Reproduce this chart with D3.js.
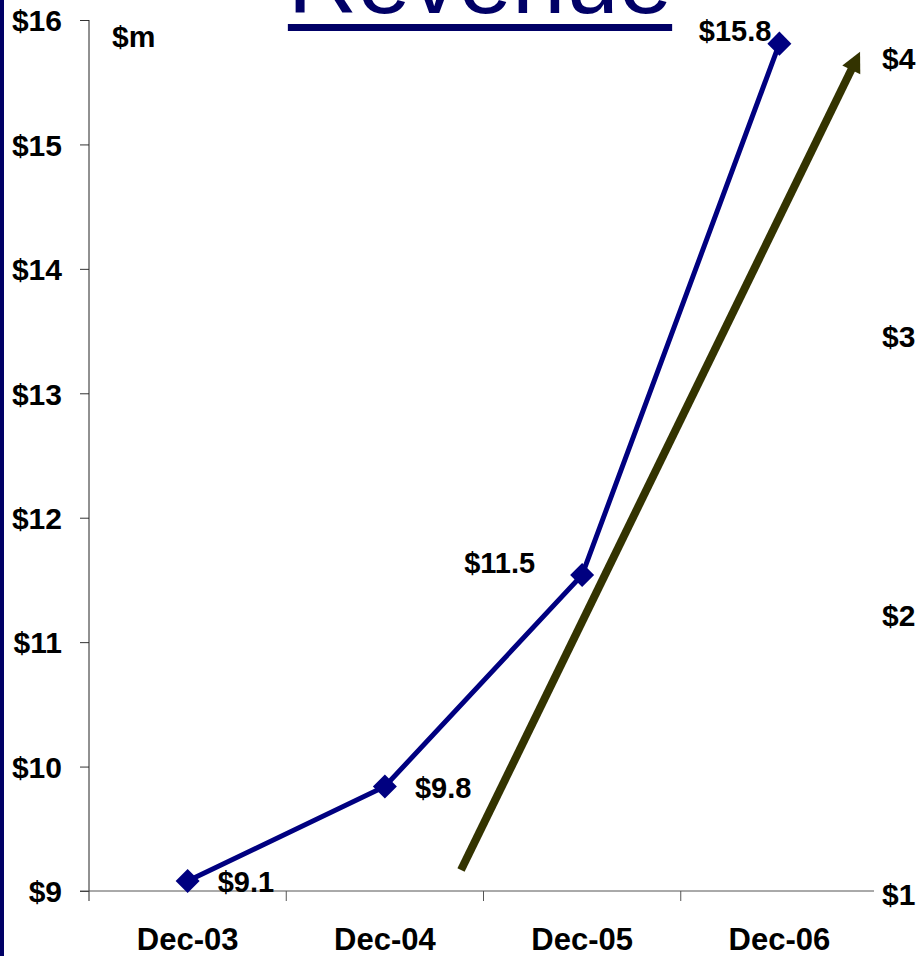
<!DOCTYPE html>
<html>
<head>
<meta charset="utf-8">
<script src="https://cdn.jsdelivr.net/npm/d3@7"></script>
<style>
  body { margin: 0; background: #fff; }
  svg { display: block; font-family: Arial, "Liberation Sans", sans-serif; }
</style>
</head>
<body>
<div id="chart"></div>
<script>
// data
var categories = ["Dec-03", "Dec-04", "Dec-05", "Dec-06"];
var revenue = [9.08, 9.84, 11.54, 15.81];
var revenueLabels = ["$9.1", "$9.8", "$11.5", "$15.8"];
var leftTicks = [9, 10, 11, 12, 13, 14, 15, 16];
var rightTicks = [1, 2, 3, 4];
// trend arrow: position in category units, value on right axis
var arrowPos = [1.386, 3.409];
var arrowVal = [1.075, 4.01];

var W = 922, H = 956;
var plotLeft = 89, plotRight = 878, plotTop = 20, plotBottom = 891;

var svg = d3.select("#chart").append("svg")
    .attr("width", W)
    .attr("height", H);

// navy strip on the left edge
svg.append("rect")
    .attr("x", 0).attr("y", 0)
    .attr("width", 4).attr("height", H)
    .attr("fill", "#000066");

var x = d3.scaleBand()
    .domain(categories)
    .range([plotLeft, plotRight])
    .padding(0);

var xPos = d3.scaleLinear()
    .domain([0, categories.length - 1])
    .range([x(categories[0]) + x.bandwidth() / 2, x(categories[categories.length - 1]) + x.bandwidth() / 2]);

var y = d3.scaleLinear()
    .domain([9, 16])
    .range([plotBottom, plotTop]);

var y2 = d3.scaleLinear()
    .domain([1, 4.124])
    .range([plotBottom, plotTop]);

// title
var title = svg.append("text")
    .attr("x", 480)
    .attr("y", 13)
    .attr("text-anchor", "middle")
    .style("font-size", "96px")
    .style("fill", "#000066")
    .text("Revenue");
var tw = title.node().getComputedTextLength();
svg.append("rect")
    .attr("x", 480 - tw / 2)
    .attr("y", 24)
    .attr("width", tw)
    .attr("height", 7)
    .attr("fill", "#000066");

// left axis
var yAxis = d3.axisLeft(y)
    .tickValues(leftTicks)
    .tickSize(9)
    .tickPadding(18)
    .tickFormat(function(d) { return "$" + d; });

var gy = svg.append("g")
    .attr("transform", "translate(" + plotLeft + ",0)")
    .call(yAxis);
gy.select(".domain").remove();
gy.selectAll("line").attr("stroke", "#333");
gy.selectAll("text")
    .style("font-size", "30px")
    .style("font-weight", "bold")
    .style("fill", "#000")
    .attr("dy", "0.36em");
svg.append("line")
    .attr("x1", plotLeft).attr("x2", plotLeft)
    .attr("y1", plotTop).attr("y2", plotBottom + 10)
    .attr("stroke", "#222");

// bottom axis
svg.append("line")
    .attr("x1", plotLeft - 9).attr("x2", plotRight - 4)
    .attr("y1", plotBottom).attr("y2", plotBottom)
    .attr("stroke", "#555");
svg.selectAll(".xtick")
    .data(categories.slice(1))
    .enter().append("line")
    .attr("class", "xtick")
    .attr("x1", function(d) { return x(d); })
    .attr("x2", function(d) { return x(d); })
    .attr("y1", plotBottom).attr("y2", plotBottom + 10)
    .attr("stroke", "#555");
svg.selectAll(".xlabel")
    .data(categories)
    .enter().append("text")
    .attr("class", "xlabel")
    .attr("x", function(d) { return x(d) + x.bandwidth() / 2; })
    .attr("y", 950)
    .attr("text-anchor", "middle")
    .style("font-size", "31px")
    .style("font-weight", "bold")
    .text(function(d) { return d; });

// right axis labels
svg.selectAll(".rlabel")
    .data(rightTicks)
    .enter().append("text")
    .attr("class", "rlabel")
    .attr("x", 882)
    .attr("y", function(d) { return y2(d) + 14; })
    .style("font-size", "30px")
    .style("font-weight", "bold")
    .text(function(d) { return "$" + d; });

// unit label
svg.append("text")
    .attr("x", 112)
    .attr("y", 47)
    .style("font-size", "30px")
    .style("font-weight", "bold")
    .text("$m");

// trend arrow
var ax0 = xPos(arrowPos[0]), ay0 = y2(arrowVal[0]);
var ax1 = xPos(arrowPos[1]), ay1 = y2(arrowVal[1]);
var ang = Math.atan2(ay1 - ay0, ax1 - ax0);
var headLen = 20, headHalf = 10;
var bx = ax1 - headLen * Math.cos(ang), by = ay1 - headLen * Math.sin(ang);
svg.append("line")
    .attr("x1", ax0).attr("y1", ay0)
    .attr("x2", bx + 2 * Math.cos(ang)).attr("y2", by + 2 * Math.sin(ang))
    .attr("stroke", "#333300")
    .attr("stroke-width", 8);
svg.append("path")
    .attr("d", "M" + ax1 + "," + ay1 +
        "L" + (bx - headHalf * Math.sin(ang)) + "," + (by + headHalf * Math.cos(ang)) +
        "L" + (bx + headHalf * Math.sin(ang)) + "," + (by - headHalf * Math.cos(ang)) + "Z")
    .attr("fill", "#333300");

// revenue line
var line = d3.line()
    .x(function(d, i) { return xPos(i); })
    .y(function(d) { return y(d); });

svg.append("path")
    .datum(revenue)
    .attr("d", line)
    .attr("fill", "none")
    .attr("stroke", "#000080")
    .attr("stroke-width", 5);

svg.selectAll(".pt")
    .data(revenue)
    .enter().append("rect")
    .attr("class", "pt")
    .attr("x", -8.5).attr("y", -8.5)
    .attr("width", 17).attr("height", 17)
    .attr("fill", "#000080")
    .attr("transform", function(d, i) {
        return "translate(" + xPos(i) + "," + y(d) + ") rotate(45)";
    });

// value labels: first two sit right of the point, last two to the left
var labelDx = [30, 30, -47, -8];
var labelDy = [11, 12, -2, -3];
svg.selectAll(".vlabel")
    .data(revenue)
    .enter().append("text")
    .attr("class", "vlabel")
    .attr("x", function(d, i) { return xPos(i) + labelDx[i]; })
    .attr("y", function(d, i) { return y(d) + labelDy[i]; })
    .attr("text-anchor", function(d, i) { return i < 2 ? "start" : "end"; })
    .style("font-size", "29px")
    .style("font-weight", "bold")
    .text(function(d, i) { return revenueLabels[i]; });
</script>
</body>
</html>
